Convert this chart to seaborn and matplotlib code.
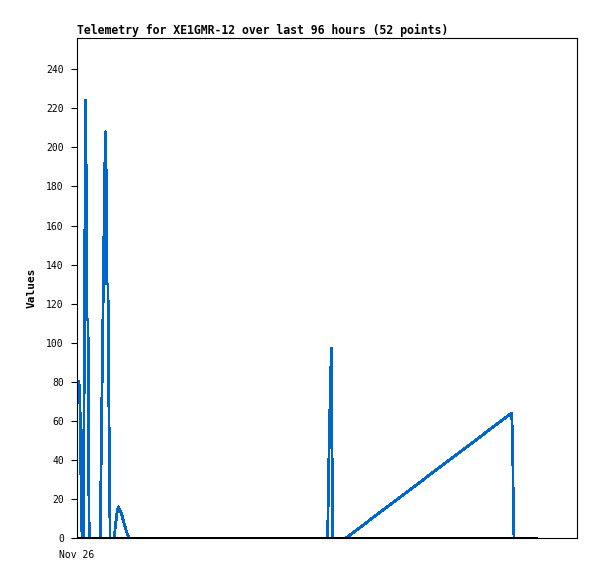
import numpy as np
import pandas as pd
import matplotlib
matplotlib.use("Agg")
import matplotlib.pyplot as plt
import matplotlib.dates as mdates
import seaborn as sns

# -------------------------
# Data
# -------------------------
START = pd.Timestamp("2023-11-26 00:00")
TITLE = "Telemetry for XE1GMR-12 over last 96 hours (52 points)"
Y_LABEL = "Values"
X_TICK_LABELS = ["Nov 26"]
Y_TICKS = [0, 20, 40, 60, 80, 100, 120, 140, 160, 180, 200, 220, 240]

# minutes since start of window
minutes = [
    25, 38, 46, 56, 63, 71, 79, 94, 106, 115, 121, 138, 146, 153,
    292, 297, 309, 322, 334, 347, 357, 367, 372, 388, 397, 409, 414,
    467, 480, 492, 505, 520, 538, 560, 580, 601, 622, 651,
    3139, 3143, 3152, 3164, 3176, 3187, 3193, 3202,
    3368, 5443, 5456, 5463, 5472, 5760,
]
values = [
    80, 67, 40, 14, 0, 14, 0, 112, 224, 187, 112, 112, 38, 0,
    0, 21, 63, 104, 145, 187, 208, 182, 130, 130, 78, 26, 0,
    0, 6, 10, 14, 16, 14, 12, 9, 6, 3, 0,
    0, 13, 36, 60, 84, 97, 48, 0,
    0, 64, 48, 16, 0, 0,
]

WINDOW_MIN = [0, 5760]      # 96 h window, drawn as zero line
X_END_MIN = 6261            # right edge of axes
Y_MAX = 256

df = pd.DataFrame({
    "time": START + pd.to_timedelta(minutes, unit="m"),
    "value": values,
})
base = pd.DataFrame({
    "time": START + pd.to_timedelta(WINDOW_MIN, unit="m"),
    "value": [0, 0],
})

# -------------------------
# Plot
# -------------------------
sns.set_style("white")
plt.rcParams["font.family"] = ["DejaVu Sans Mono"]
plt.rcParams["text.color"] = "black"
plt.rcParams["axes.labelcolor"] = "black"
plt.rcParams["xtick.color"] = "black"
plt.rcParams["ytick.color"] = "black"

fig = plt.figure(figsize=(5.97, 5.79), dpi=100)
ax = fig.add_axes([77 / 597, 1 - 538 / 579, 500 / 597, 500 / 579])

sns.lineplot(data=df, x="time", y="value", color="#0066CC",
             linewidth=1.3, estimator=None, sort=False, ax=ax, zorder=2,
             antialiased=False)
sns.lineplot(data=base, x="time", y="value", color="black",
             linewidth=1.4, estimator=None, ax=ax, zorder=3,
             antialiased=False)

ax.set_xlim(START, START + pd.Timedelta(minutes=X_END_MIN))
ax.set_ylim(0, Y_MAX)
ax.set_yticks(Y_TICKS)
ax.set_xticks([START])
ax.set_xticklabels(X_TICK_LABELS)

ax.tick_params(axis="y", direction="out", length=4.5, width=0.8,
               color="black", labelsize=7, pad=5, left=True)
ax.tick_params(axis="x", length=0, labelsize=7, pad=9)

for s in ax.spines.values():
    s.set_color("black")
    s.set_linewidth(0.8)

ax.set_xlabel("")
ax.set_ylabel(Y_LABEL, fontsize=8, fontweight="bold", labelpad=7)
ax.set_title(TITLE, loc="left", fontsize=8.3, fontweight="bold", pad=3)

fig.savefig("out.png", dpi=100)
